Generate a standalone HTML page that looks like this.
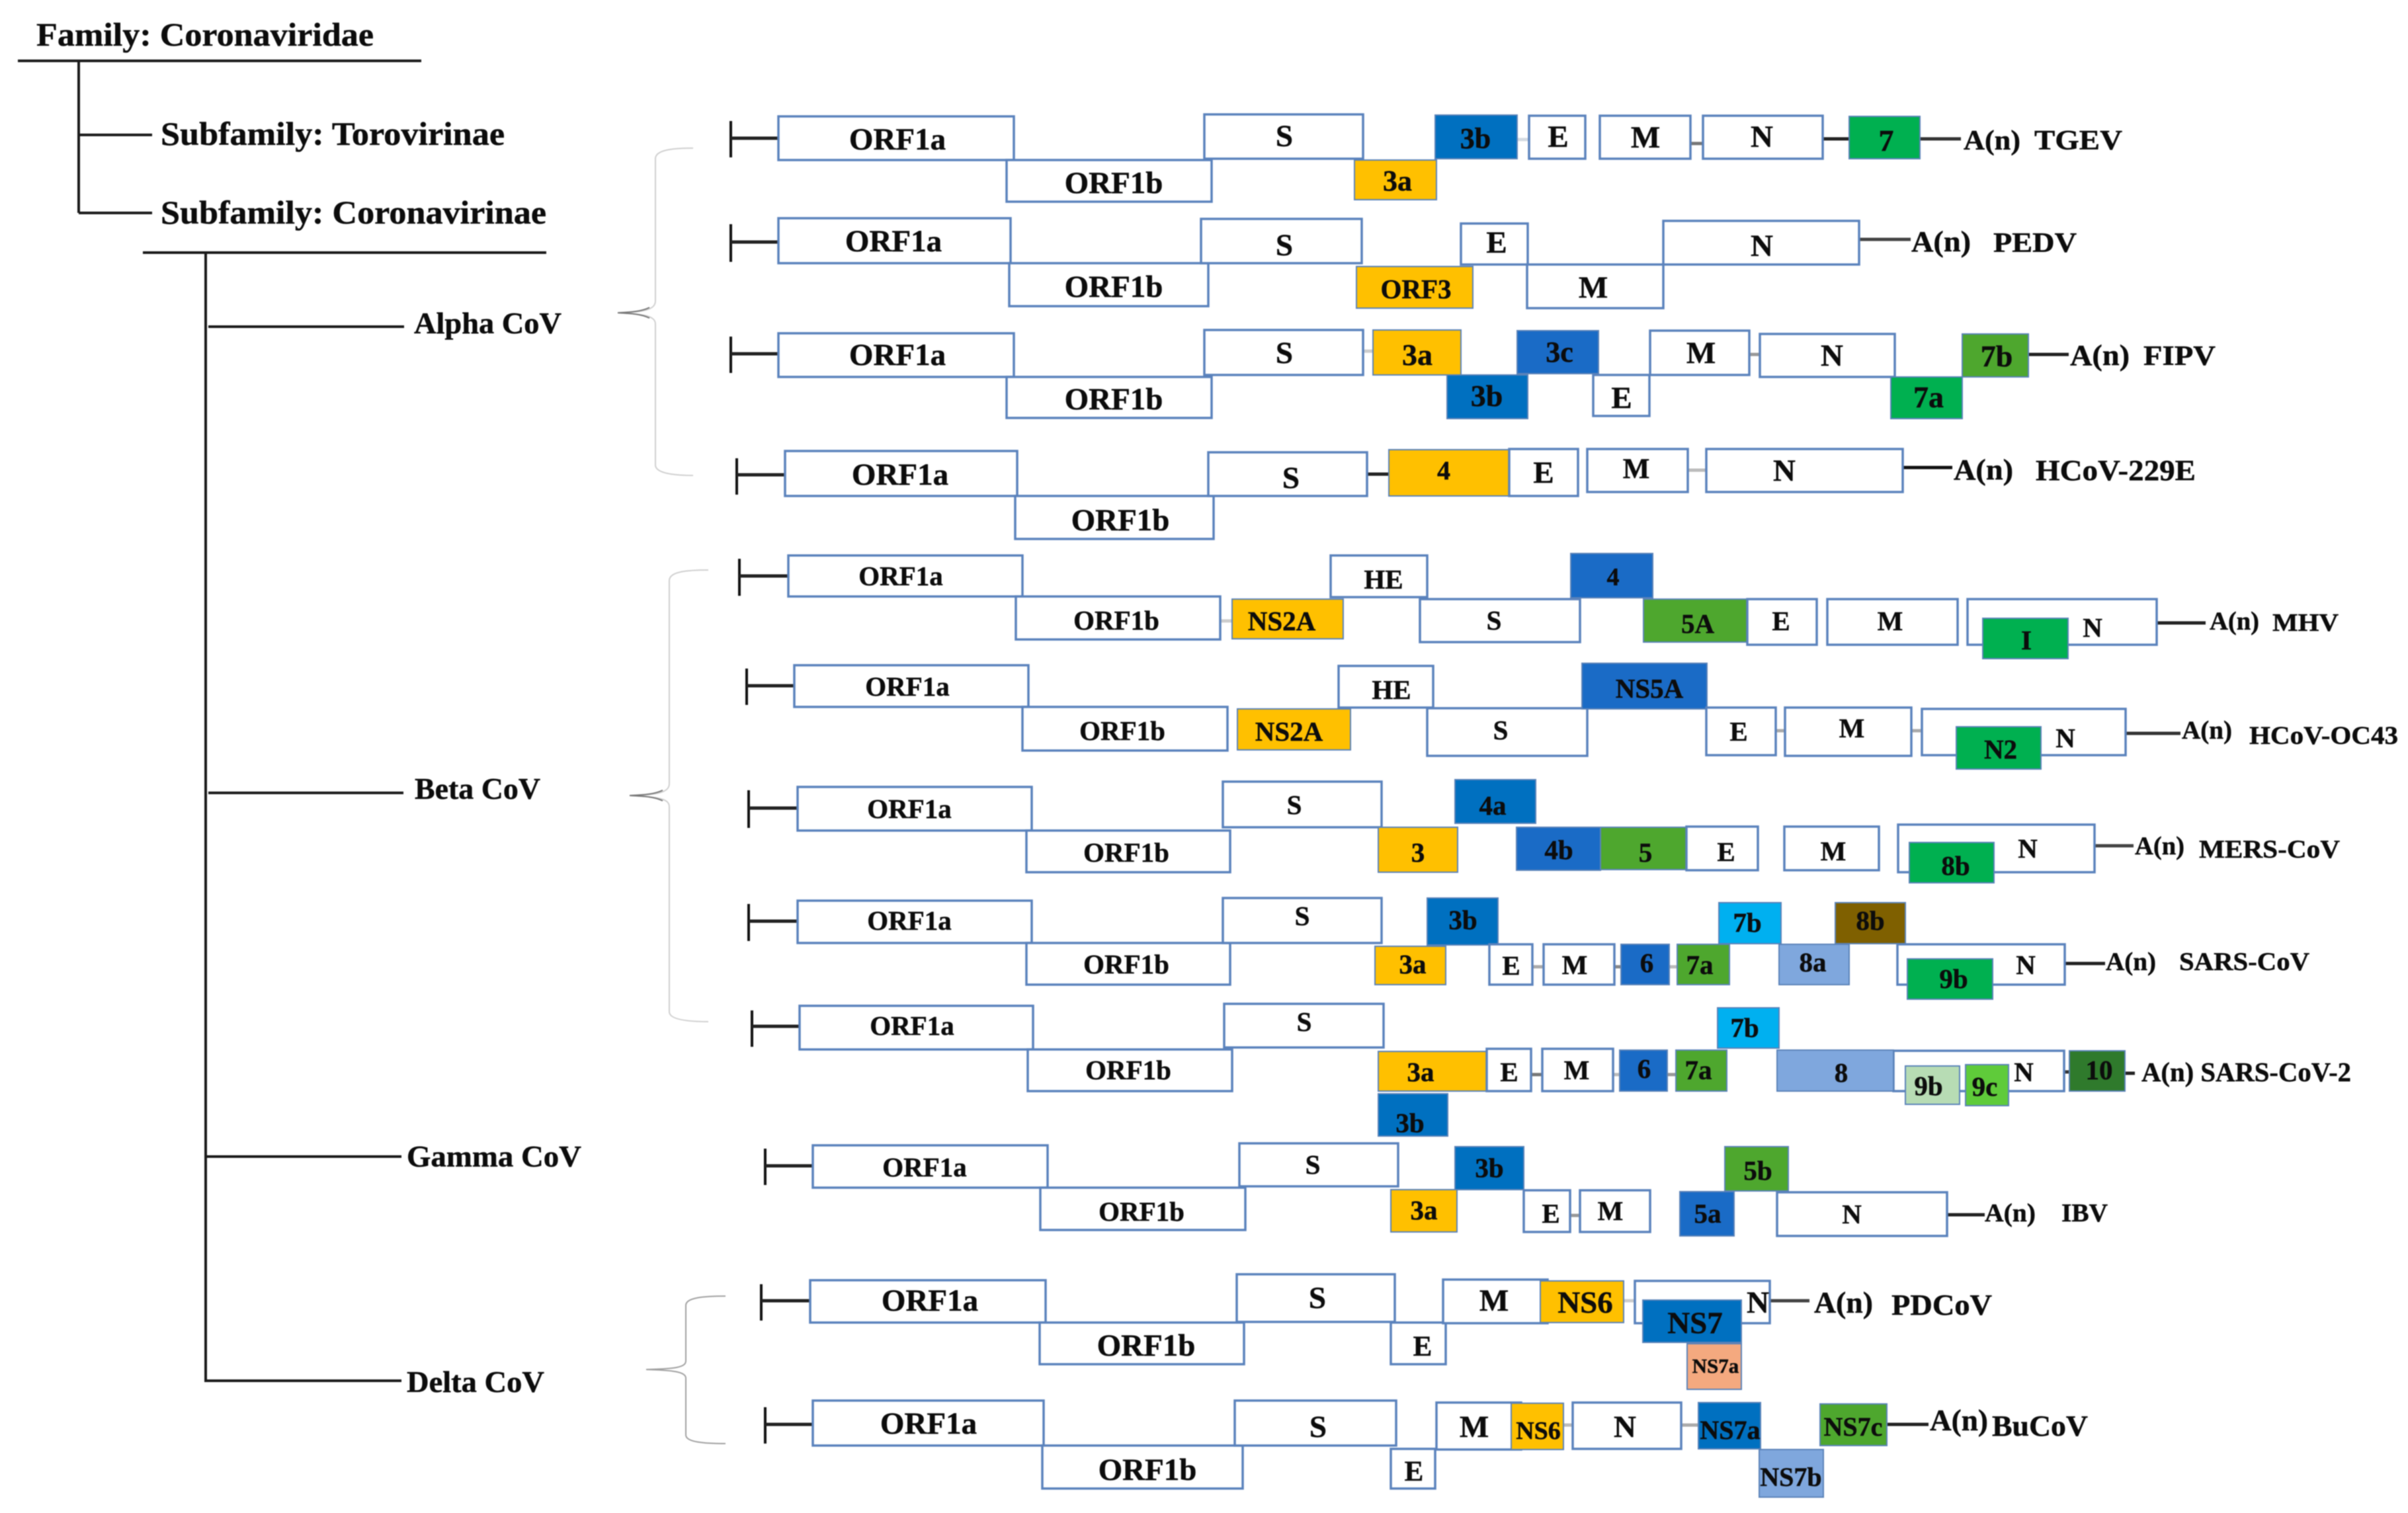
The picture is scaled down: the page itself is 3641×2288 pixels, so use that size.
<!DOCTYPE html>
<html lang="en">
<head>
<meta charset="utf-8">
<title>Coronaviridae genome organisation</title>
<style>
html,body{margin:0;padding:0;background:#fff;width:3641px;height:2288px;overflow:hidden}
svg{display:block;filter:blur(0.9px)}
text{font-family:"Liberation Serif","DejaVu Serif",serif;font-weight:700;fill:#0c0c0c;stroke:#0c0c0c;stroke-width:0.5px}
</style>
</head>
<body>
<svg id="figure" xmlns="http://www.w3.org/2000/svg" width="3641" height="2288" viewBox="0 0 3641 2288">
<rect x="0" y="0" width="3641" height="2288" fill="#fff"/>
<g stroke="#1a1a1a" fill="none">
<path stroke-width="4" d="M27 92H637"/>
<path stroke-width="4" d="M119 92V322"/>
<path stroke-width="4" d="M119 204H230"/>
<path stroke-width="4" d="M119 322H230"/>
<path stroke-width="4" d="M216 382H826"/>
<path stroke-width="4" d="M311 382V2090"/>
<path stroke-width="4" d="M315 494H611"/>
<path stroke-width="4" d="M315 1199H610"/>
<path stroke-width="4" d="M311 1749H607"/>
<path stroke-width="4" d="M311 2088H607"/>
</g>
<g>
<text x="55" y="69" font-size="50" textLength="510" lengthAdjust="spacingAndGlyphs">Family: Coronaviridae</text>
<text x="243" y="219" font-size="50" textLength="520" lengthAdjust="spacingAndGlyphs">Subfamily: Torovirinae</text>
<text x="243" y="338" font-size="50" textLength="583" lengthAdjust="spacingAndGlyphs">Subfamily: Coronavirinae</text>
<text x="626" y="504" font-size="46" textLength="223" lengthAdjust="spacingAndGlyphs">Alpha CoV</text>
<text x="627" y="1208" font-size="46" textLength="190" lengthAdjust="spacingAndGlyphs">Beta CoV</text>
<text x="615" y="1764" font-size="46" textLength="264" lengthAdjust="spacingAndGlyphs">Gamma CoV</text>
<text x="615" y="2105" font-size="46" textLength="208" lengthAdjust="spacingAndGlyphs">Delta CoV</text>
</g>
<g fill="none" stroke="#cfcfcf" stroke-width="2">
<path d="M1048 224C1020 224 991 226 991 240V455C991 468 975 472 934 473C975 475 991 478 991 490V703C991 716 1020 719 1048 719"/>
<path stroke="#777" d="M934 473C955 472 970 471 982 465M934 473C955 474 970 475 982 481"/>
<path d="M1071 862C1040 862 1012 864 1012 878V1185C1012 1198 996 1202 952 1203C996 1205 1012 1208 1012 1220V1530C1012 1542 1040 1545 1071 1545"/>
<path stroke="#777" d="M952 1203C975 1202 990 1201 1002 1195M952 1203C975 1204 990 1205 1002 1211"/>
<path stroke="#a0a0a0" d="M1097 1960C1065 1960 1037 1962 1037 1974V2058C1037 2068 1020 2070 977 2071C1020 2072 1037 2075 1037 2084V2170C1037 2181 1065 2183 1097 2183"/>
</g>
<g id="genomes"></g>
</svg>
<script>
var W='#ffffff',Y='#ffc000',B='#0070c0',B2='#1a6bc6',G='#00b050',G2='#4ea72e',C='#00b0f0',P='#7fa7dd',BR='#7f6000',LG='#b7dcb4',G3='#5fcb3a',DG='#2f7a2c',O='#f4a97f';

// label, left, right, top, bottom, fill, label-centre, label-baseline, optional font size
var tgevGenes=[['ORF1a',1177,1533,176,242,W,1357,226],['ORF1b',1522,1832,242,305,W,1684,292],['S',1821,2061,173,240,W,1942,221],['3a',2048,2172,242,302,Y,2113,288,44],['3b',2170,2294,174,240,B,2231,224,44],['E',2312,2397,175,240,W,2356,222],['M',2419,2556,175,240,W,2488,223],['N',2575,2756,175,240,W,2664,222],['7',2796,2903,176,240,G,2852,228,46]];
var pedvGenes=[['ORF1a',1177,1528,330,398,W,1351,380],['ORF1b',1526,1827,398,463,W,1684,449],['S',1816,2059,331,398,W,1942,386],['ORF3',2051,2227,403,466,Y,2141,451,41],['E',2209,2310,338,400,W,2263,382],['M',2309,2515,400,466,W,2409,450],['N',2515,2811,334,400,W,2664,387]];
var fipvGenes=[['ORF1a',1177,1533,504,570,W,1357,552],['ORF1b',1522,1832,570,632,W,1684,619],['S',1821,2061,499,567,W,1942,549],['3a',2076,2209,499,567,Y,2143,552,46],['3c',2294,2417,500,565,B2,2358,547,44],['3b',2188,2310,567,633,B,2248,614,46],['E',2409,2494,567,629,W,2452,617],['M',2495,2645,500,567,W,2572,549],['N',2661,2865,505,570,W,2770,553],['7a',2859,2967,570,633,G,2916,616,46],['7b',2967,3067,505,570,G2,3019,554,46]];
var hcov229eGenes=[['ORF1a',1187,1538,682,750,W,1361,733],['ORF1b',1535,1835,750,815,W,1694,802],['S',1827,2067,684,750,W,1952,738],['4',2100,2282,680,750,Y,2183,725,40],['E',2282,2386,679,750,W,2334,730],['M',2400,2552,679,744,W,2474,723,43],['N',2580,2877,679,744,W,2698,727]];
var mhvGenes=[['ORF1a',1192,1546,840,902,W,1362,885],['ORF1b',1536,1845,902,967,W,1688,952],['NS2A',1863,2031,906,966,Y,1938,953],['HE',2012,2158,840,903,W,2092,890],['S',2147,2389,906,971,W,2259,952],['4',2375,2499,837,904,B2,2439,885,38],['5A',2485,2642,906,971,G2,2567,957],['E',2642,2747,906,975,W,2693,953],['M',2763,2960,906,975,W,2858,953],['N',2975,3261,906,975,W,3164,963],['I',2998,3127,935,996,G,3064,982]];
var oc43Genes=[['ORF1a',1201,1555,1006,1069,W,1372,1052],['ORF1b',1546,1856,1069,1135,W,1697,1119],['NS2A',1871,2042,1072,1134,Y,1949,1120],['HE',2024,2167,1007,1070,W,2104,1057],['S',2158,2400,1071,1143,W,2269,1118],['NS5A',2392,2581,1003,1072,B2,2494,1055],['E',2580,2685,1070,1142,W,2629,1120],['M',2699,2890,1070,1143,W,2800,1115],['N',2906,3214,1072,1142,W,3123,1130],['N2',2958,3086,1099,1163,G,3025,1147]];
var mersGenes=[['ORF1a',1206,1560,1190,1256,W,1375,1237],['ORF1b',1552,1860,1256,1319,W,1703,1303],['S',1849,2089,1182,1251,W,1957,1231],['3',2084,2204,1251,1319,Y,2144,1303],['4a',2200,2322,1179,1245,B,2257,1232],['4b',2293,2420,1251,1316,B2,2357,1299],['5',2420,2550,1251,1315,G2,2488,1303],['E',2550,2658,1250,1316,W,2610,1302],['M',2698,2841,1250,1316,W,2772,1301],['N',2870,3167,1247,1319,W,3066,1297],['8b',2887,3015,1274,1335,G,2957,1323]];
var sarsGenes=[['ORF1a',1206,1560,1362,1426,W,1375,1406],['ORF1b',1552,1860,1426,1489,W,1703,1472],['S',1849,2089,1358,1426,W,1969,1399],['3a',2079,2186,1431,1489,Y,2136,1472],['3b',2158,2265,1358,1429,B,2212,1405],['E',2252,2317,1428,1489,W,2285,1474],['M',2334,2441,1428,1489,W,2381,1473],['6',2451,2524,1428,1489,B2,2490,1470],['7a',2536,2615,1428,1489,G2,2570,1473],['7b',2599,2693,1365,1427,C,2642,1409],['8a',2690,2796,1428,1489,P,2741,1469],['8b',2775,2881,1365,1427,BR,2828,1406],['N',2869,3122,1428,1489,W,3063,1473],['9b',2884,3013,1450,1511,G,2954,1494]];
var sars2Genes=[['ORF1a',1209,1562,1521,1587,W,1379,1565],['ORF1b',1554,1863,1587,1650,W,1706,1632],['S',1851,2092,1518,1584,W,1972,1559],['3a',2084,2248,1590,1650,Y,2148,1635],['3b',2084,2189,1654,1718,B,2132,1712],['E',2248,2315,1586,1650,W,2282,1635],['M',2332,2439,1586,1650,W,2384,1632],['6',2449,2521,1588,1650,B2,2486,1630],['7a',2534,2611,1588,1650,G2,2568,1632],['7b',2597,2690,1524,1585,C,2638,1568],['N',2863,3121,1589,1650,W,3060,1635],['8',2687,2863,1588,1650,P,2784,1636],['9b',2881,2963,1612,1670,LG,2916,1656],['9c',2972,3037,1610,1672,G3,3001,1657],['10',3129,3213,1589,1650,DG,3174,1632]];
var ibvGenes=[['ORF1a',1229,1584,1732,1796,W,1398,1779],['ORF1b',1573,1883,1796,1860,W,1726,1846],['S',1874,2114,1729,1794,W,1985,1775],['3a',2103,2203,1799,1863,Y,2153,1844],['3b',2200,2304,1734,1799,B,2252,1780],['E',2304,2374,1800,1863,W,2345,1849],['M',2389,2495,1800,1863,W,2435,1845],['5a',2540,2622,1802,1869,B2,2582,1849],['5b',2608,2704,1734,1801,G2,2658,1784],['N',2687,2944,1803,1869,W,2800,1850]];
var pdcovGenes=[['ORF1a',1225,1581,1936,2000,W,1406,1982],['ORF1b',1572,1881,2000,2063,W,1733,2050],['S',1870,2109,1927,1999,W,1992,1978],['E',2103,2186,2000,2063,W,2151,2050,43],['M',2182,2340,1935,2001,W,2259,1982],['NS6',2329,2455,1937,2000,Y,2397,1985],['N',2472,2676,1937,2001,W,2658,1985],['NS7',2484,2633,1966,2030,B,2563,2016],['NS7a',2551,2633,2032,2101,O,2594,2076,31]];
var bucovGenes=[['ORF1a',1229,1578,2118,2186,W,1404,2168],['ORF1b',1576,1879,2186,2251,W,1735,2238],['S',1867,2111,2118,2186,W,1993,2173],['E',2103,2170,2191,2251,W,2138,2239,43],['M',2172,2300,2121,2192,W,2229,2173],['NS6',2285,2364,2122,2192,Y,2326,2176,38],['N',2378,2542,2121,2191,W,2457,2173],['NS7a',2568,2662,2121,2191,B,2616,2176,40],['NS7b',2660,2757,2192,2264,P,2708,2247,40],['NS7c',2752,2853,2123,2186,G2,2802,2171,40]];

// left, right, height, colour
var tgevLinks=[[2294,2312,211,'#d4dae2'],[2556,2575,217,'#777'],[2756,2796,210,'#222'],[2903,2965,210,'#333']];
var pedvLinks=[[2811,2889,362,'#444']];
var fipvLinks=[[2061,2076,531,'#ccc'],[2645,2661,536,'#999'],[3067,3128,536,'#222']];
var hcov229eLinks=[[2067,2100,717,'#222'],[2552,2580,711,'#bbb'],[2877,2952,707,'#111']];
var mhvLinks=[[1845,1863,939,'#ccc'],[3261,3335,942,'#222']];
var oc43Links=[[2685,2699,1105,'#aaa'],[2890,2906,1105,'#aaa'],[3214,3297,1109,'#333']];
var mersLinks=[[3167,3226,1279,'#444']];
var sarsLinks=[[2317,2334,1462,'#aaa'],[2441,2451,1462,'#888'],[2524,2536,1462,'#bbb'],[3122,3183,1457,'#222']];
var sars2Links=[[2315,2332,1625,'#777'],[2439,2449,1625,'#bbb'],[2521,2534,1625,'#999'],[3121,3129,1621,'#333'],[3213,3228,1623,'#222']];
var ibvLinks=[[2374,2389,1838,'#999'],[2944,3001,1837,'#222']];
var pdcovLinks=[[2455,2472,1967,'#ccc'],[2676,2736,1967,'#444']];
var bucovLinks=[[2364,2378,2155,'#bbb'],[2542,2568,2155,'#aaa'],[2853,2916,2154,'#222']];

// text, left, width, baseline, font size
var tgevEnd=[['A(n)',2969,86,226,42],['TGEV',3076,133,226,42]];
var pedvEnd=[['A(n)',2890,90,380,44],['PEDV',3014,126,381,42]];
var fipvEnd=[['A(n)',3130,90,552,44],['FIPV',3241,109,552,42]];
var hcov229eEnd=[['A(n)',2954,90,725,44],['HCoV-229E',3078,242,726,44]];
var mhvEnd=[['A(n)',3341,75,952,39],['MHV',3436,100,954,38]];
var oc43End=[['A(n)',3299,76,1117,39],['HCoV-OC43',3401,225,1125,39]];
var mersEnd=[['A(n)',3228,75,1292,39],['MERS-CoV',3325,213,1297,39]];
var sarsEnd=[['A(n)',3184,76,1467,39],['SARS-CoV',3295,197,1467,39]];
var sars2End=[['A(n) SARS-CoV-2',3238,317,1635,41]];
var ibvEnd=[['A(n)',3001,77,1847,39],['IBV',3117,70,1847,39]];
var pdcovEnd=[['A(n)',2743,89,1985,46],['PDCoV',2860,152,1988,44]];
var bucovEnd=[['A(n)',2918,88,2163,46],['BuCoV',3012,145,2171,44]];

// name, tick x, tick top, tick bottom, lead-in end, lead-in y, default font, genes, links, end labels
var genomes=[
['tgev',1105,183,238,1177,209,47,tgevGenes,tgevLinks,tgevEnd],
['pedv',1105,339,396,1177,366,47,pedvGenes,pedvLinks,pedvEnd],
['fipv',1105,509,564,1177,535,47,fipvGenes,fipvLinks,fipvEnd],
['hcov-229e',1114,693,748,1187,718,47,hcov229eGenes,hcov229eLinks,hcov229eEnd],
['mhv',1118,845,901,1192,871,41,mhvGenes,mhvLinks,mhvEnd],
['hcov-oc43',1129,1011,1066,1201,1037,41,oc43Genes,oc43Links,oc43End],
['mers-cov',1132,1195,1252,1206,1222,41,mersGenes,mersLinks,mersEnd],
['sars-cov',1132,1367,1423,1206,1393,41,sarsGenes,sarsLinks,sarsEnd],
['sars-cov-2',1137,1528,1583,1209,1552,41,sars2Genes,sars2Links,sars2End],
['ibv',1157,1737,1792,1229,1763,41,ibvGenes,ibvLinks,ibvEnd],
['pdcov',1151,1942,1997,1225,1967,47,pdcovGenes,pdcovLinks,pdcovEnd],
['bucov',1157,2128,2183,1229,2154,47,bucovGenes,bucovLinks,bucovEnd]
];

var NS='http://www.w3.org/2000/svg';
var root=document.getElementById('genomes');

function slug(s){return String(s).toLowerCase().replace(/[^a-z0-9]+/g,'-').replace(/^-|-$/g,'');}

function makeLine(parent,name,x1,y1,x2,y2,color,width){
  var el=document.createElementNS(NS,'line');
  
  
  el.setAttribute('x1',x1);el.setAttribute('y1',y1);
  el.setAttribute('x2',x2);el.setAttribute('y2',y2);
  el.setAttribute('stroke',color);el.setAttribute('stroke-width',width);
  parent.appendChild(el);
}

function makeText(parent,name,str,x,y,size,anchor,len){
  var el=document.createElementNS(NS,'text');
  
  
  el.setAttribute('x',x);el.setAttribute('y',y);
  el.setAttribute('font-size',size);
  el.setAttribute('text-anchor',anchor);
  if(len){el.setAttribute('textLength',len);el.setAttribute('lengthAdjust','spacingAndGlyphs');}
  el.textContent=str;
  parent.appendChild(el);
}

function makeBox(parent,name,g){
  var el=document.createElementNS(NS,'rect');
  
  
  el.setAttribute('x',g[1]);el.setAttribute('y',g[3]);
  el.setAttribute('width',g[2]-g[1]);el.setAttribute('height',g[4]-g[3]);
  el.setAttribute('fill',g[5]);
  el.setAttribute('stroke',g[5]===W?'#5a82bc':'#5a82b8');
  el.setAttribute('stroke-width',g[5]===W?3.5:2);
  parent.appendChild(el);
}

genomes.forEach(function(row){
  var grp=document.createElementNS(NS,'g');
  
  
  root.appendChild(grp);
  makeLine(grp,row[0]+'-five-prime-tick',row[1],row[2],row[1],row[3],'#111',4);
  makeLine(grp,row[0]+'-lead-in',row[1],row[5],row[4],row[5],'#222',5);
  row[8].forEach(function(k,i){
    makeLine(grp,row[0]+'-connector-'+(i+1),k[0],k[2],k[1],k[2],k[3],5);
  });
  row[7].forEach(function(g){
    makeBox(grp,row[0]+'-gene-'+slug(g[0]),g);
  });
  row[7].forEach(function(g){
    makeText(grp,row[0]+'-gene-'+slug(g[0])+'-label',g[0],g[6],g[7],g[8]||row[6],'middle');
  });
  row[9].forEach(function(t){
    makeText(grp,row[0]+'-end-label-'+slug(t[0]),t[0],t[1],t[3],t[4],'start',t[2]);
  });
});
</script>
</body>
</html>
